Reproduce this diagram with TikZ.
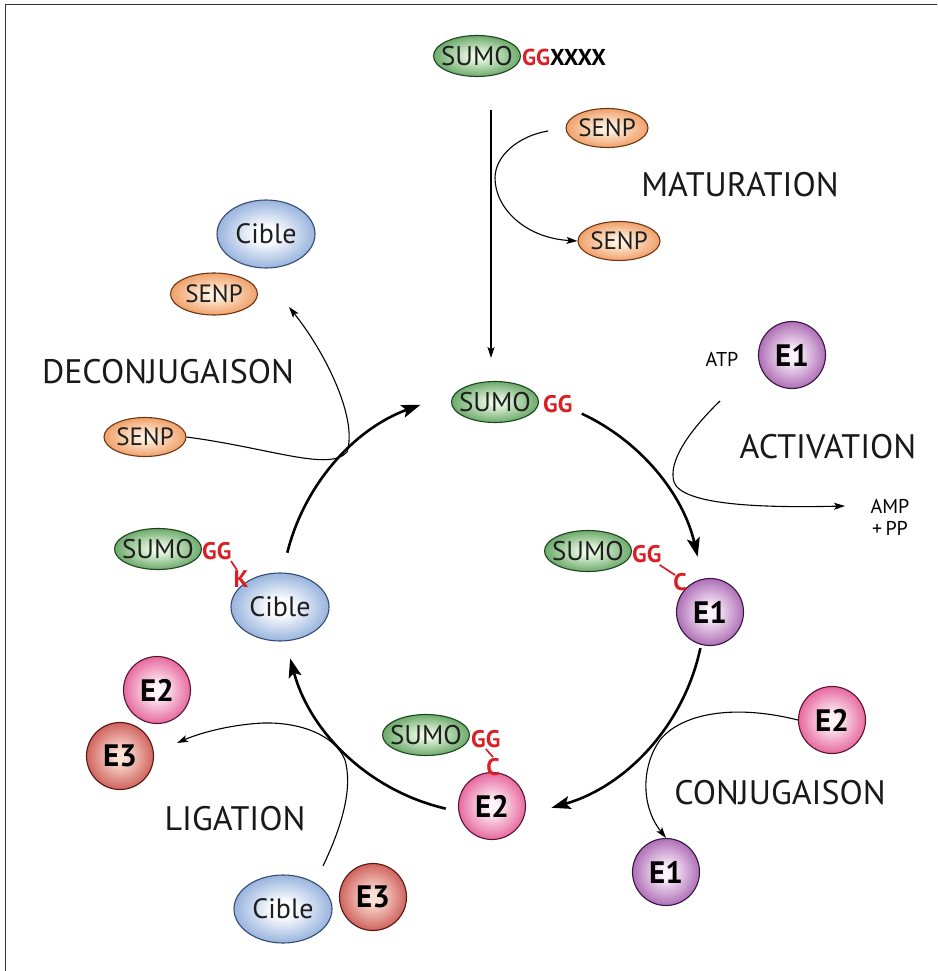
\documentclass[tikz,border=0pt]{standalone}
\usepackage{fontspec}
\setmainfont{PT Sans}
\usetikzlibrary{shapes.geometric,arrows.meta,calc}
\definecolor{ggred}{RGB}{218,32,38}
\definecolor{sumoO}{RGB}{62,140,62}\definecolor{sumoI}{RGB}{232,248,226}\definecolor{sumoD}{RGB}{30,70,30}
\definecolor{senpO}{RGB}{234,130,62}\definecolor{senpI}{RGB}{255,240,222}\definecolor{senpD}{RGB}{110,55,20}
\definecolor{cibO}{RGB}{105,145,205}\definecolor{cibI}{RGB}{252,253,255}\definecolor{cibD}{RGB}{55,75,115}
\definecolor{eoneO}{RGB}{145,62,155}\definecolor{eoneI}{RGB}{253,242,253}\definecolor{eoneD}{RGB}{55,20,65}
\definecolor{etwoO}{RGB}{222,52,125}\definecolor{etwoI}{RGB}{255,245,249}\definecolor{etwoD}{RGB}{90,20,50}
\definecolor{ethrO}{RGB}{190,52,48}\definecolor{ethrI}{RGB}{252,225,215}\definecolor{ethrD}{RGB}{90,20,20}
\pgfdeclareradialshading{sumoshade}{\pgfpoint{0bp}{0bp}}{color(0bp)=(sumoI); color(4bp)=(sumoI); color(33bp)=(sumoO); color(50bp)=(sumoO)}
\pgfdeclareradialshading{senpshade}{\pgfpoint{0bp}{0bp}}{color(0bp)=(senpI); color(4bp)=(senpI); color(33bp)=(senpO); color(50bp)=(senpO)}
\pgfdeclareradialshading{cibshade}{\pgfpoint{0bp}{0bp}}{color(0bp)=(cibI); color(6bp)=(cibI); color(34bp)=(cibO); color(50bp)=(cibO)}
\pgfdeclareradialshading{eoneshade}{\pgfpoint{0bp}{0bp}}{color(0bp)=(eoneI); color(4bp)=(eoneI); color(33bp)=(eoneO); color(50bp)=(eoneO)}
\pgfdeclareradialshading{etwoshade}{\pgfpoint{0bp}{0bp}}{color(0bp)=(etwoI); color(4bp)=(etwoI); color(33bp)=(etwoO); color(50bp)=(etwoO)}
\pgfdeclareradialshading{ethrshade}{\pgfpoint{0bp}{0bp}}{color(0bp)=(ethrI); color(4bp)=(ethrI); color(33bp)=(ethrO); color(50bp)=(ethrO)}
\begin{document}
\begin{tikzpicture}[x=1pt,y=-1pt,
  prot/.style={ellipse, inner sep=0pt, line width=1.1pt},
  sumo/.style={prot, minimum width=87pt, minimum height=41pt, draw=sumoD, shade, shading=sumoshade},
  senp/.style={prot, minimum width=82pt, minimum height=39pt, draw=senpD, shade, shading=senpshade},
  cible/.style={prot, minimum width=98pt, minimum height=68pt, draw=cibD, shade, shading=cibshade},
  enz/.style={circle, inner sep=0pt, minimum size=67pt, line width=1.1pt},
  eone/.style={enz, draw=eoneD, shade, shading=eoneshade},
  etwo/.style={enz, draw=etwoD, shade, shading=etwoshade},
  ethr/.style={enz, draw=ethrD, shade, shading=ethrshade},
  ptxt/.style={inner sep=0pt, font=\fontsize{25}{25}\selectfont, text=black!88},
  stxt/.style={ptxt, font=\fontsize{27}{27}\selectfont},
  ctxt/.style={ptxt, font=\fontsize{28}{28}\selectfont},
  etxt/.style={inner sep=0pt, font=\bfseries\fontsize{31}{31}\selectfont},
  gg/.style={inner sep=0pt, font=\bfseries\fontsize{24}{24}\selectfont, text=ggred},
  lbl/.style={inner sep=0pt, font=\fontsize{34}{34}\selectfont, text=black!90},
  small/.style={inner sep=0pt, font=\fontsize{20}{22}\selectfont, align=center},
  cyc/.style={line width=2.6pt, -{Stealth[length=19pt,width=13pt,inset=4pt]}},
  rxn/.style={line width=1.1pt, -{Stealth[length=11pt,width=7pt,inset=2.5pt]}},
  link/.style={line width=1.7pt, draw=ggred},
]
\useasboundingbox (0,0) rectangle (937,971);
\fill[white] (0,0) rectangle (937,971);
\draw[line width=1pt, black!80] (5,971) -- (5,5) -- (937,5);

% ---------- maturation ----------
\node[sumo] (s0) at (477,56) {};
\node[stxt] (s0t) at (s0) {SUMO};
\node[gg, anchor=west, font=\bfseries\fontsize{23}{23}\selectfont] (s0gg) at (522,57) {GG\textcolor{black}{XXXX}};
\coordinate (va) at (491,110);
\coordinate (vb) at (491,358);
\draw[rxn] (va) -- (vb);
\node[senp] (senpA) at (607,128) {};
\node[ptxt] (senpAt) at (senpA) {SENP};
\node[senp] (senpB) at (619,241) {};
\node[ptxt] (senpBt) at (senpB) {SENP};
\coordinate (mA) at (548,131);
\coordinate (mB) at (495,178);
\draw[rxn] (mA) .. controls (518,136) and (495,156) .. (mB) .. controls (495,208) and (525,238) .. (senpB.west);
\node[lbl] (mat) at (740,185) {MATURATION};

% ---------- cycle ----------
\coordinate (cc) at (493,604);
\node[sumo] (s1) at (495,402) {};
\node[stxt] (s1t) at (s1) {SUMO};
\node[gg, anchor=west] (s1gg) at (543,404) {GG};

\draw[cyc] (cc) ++(-65:210) arc[start angle=-65, end angle=-13, radius=210];
\draw[cyc] (cc) ++(12:212) arc[start angle=12, end angle=74, radius=212];
\draw[cyc] (cc) ++(103:210) arc[start angle=103, end angle=165, radius=210];
\draw[cyc] (cc) ++(194:212) arc[start angle=194, end angle=250, radius=212];

% ---------- activation ----------
\node[small] (atp) at (722,359) {ATP};
\node[eone] (e1a) at (792,355) {};
\node[etxt] (e1at) at (e1a) {E1};
\coordinate (aA) at (720,401);
\coordinate (aB) at (674,482);
\coordinate (aC) at (845,506);
\draw[rxn] (aA) .. controls (688,432) and (668,462) .. (aB) .. controls (682,505) and (760,508) .. (aC);
\node[lbl] (act) at (828,447) {ACTIVATION};
\node[small, anchor=north] (amp) at (890,499) {AMP\\+\,PP};

% E1 thioester
\node[sumo] (s2) at (588,551) {};
\node[stxt] (s2t) at (s2) {SUMO};
\node[gg, anchor=west] (s2gg) at (632,554) {GG};
\node[eone] (e1b) at (710,612) {};
\node[etxt] (e1bt) at (e1b) {E1};
\node[gg] (s2c) at (680,582) {C};
\draw[link] (s2gg.south east) ++(-2,2) -- ($(s2c.north west)+(2,2)$);

% ---------- conjugation ----------
\node[etwo] (e2a) at (832,720) {};
\node[etxt] (e2at) at (e2a) {E2};
\node[eone] (e1c) at (666,872) {};
\node[etxt] (e1ct) at (e1c) {E1};
\coordinate (cA) at (660,740);
\draw[rxn] (e2a.west) .. controls (730,703) and (680,715) .. (cA) .. controls (642,765) and (640,805) .. (e1c.north);
\node[lbl] (conj) at (780,793) {CONJUGAISON};

% E2 thioester
\node[sumo] (s3) at (426,735) {};
\node[stxt] (s3t) at (s3) {SUMO};
\node[gg, anchor=west] (s3gg) at (471,739) {GG};
\node[etwo] (e2b) at (492,806) {};
\node[etxt] (e2bt) at (e2b) {E2};
\node[gg] (s3c) at (493,767) {C};
\draw[link] (s3gg.south) ++(0,1) -- ($(s3c.north)+(0,-1)$);

% ---------- ligation ----------
\node[etwo] (e2c) at (157,690) {};
\node[etxt] (e2ct) at (e2c) {E2};
\node[ethr] (e3a) at (120,756) {};
\node[etxt] (e3at) at (e3a) {E3};
\node[cible] (cb3) at (283,909) {};
\node[ctxt] (cb3t) at (cb3) {Cible};
\node[ethr] (e3b) at (373,897) {};
\node[etxt] (e3bt) at (e3b) {E3};
\coordinate (lA) at (323,866);
\coordinate (lB) at (345,760);
\coordinate (lC) at (263,723);
\coordinate (lD) at (177,743);
\draw[rxn] (lA) .. controls (345,820) and (352,785) .. (lB) .. controls (335,735) and (300,722) .. (lC) .. controls (225,725) and (195,735) .. (lD);
\node[lbl] (lig) at (235,819) {LIGATION};

% conjugated target
\node[sumo] (s4) at (158,549) {};
\node[stxt] (s4t) at (s4) {SUMO};
\node[gg, anchor=west] (s4gg) at (202,551) {GG};
\node[cible] (cb2) at (280,607) {};
\node[ctxt] (cb2t) at (cb2) {Cible};
\node[gg] (s4k) at (241,579) {K};
\draw[link] (231,561) -- (237,570);

% ---------- deconjugation ----------
\node[cible] (cb1) at (266,234) {};
\node[ctxt] (cb1t) at (cb1) {Cible};
\node[senp, minimum width=87pt, minimum height=42pt] (senpC) at (214,294) {};
\node[ptxt] (senpCt) at (senpC) {SENP};
\node[senp] (senpD) at (145,437) {};
\node[ptxt] (senpDt) at (senpD) {SENP};
\coordinate (dB) at (347,452);
\coordinate (dC) at (289,307);
\draw[rxn] (senpD.east) .. controls (270,448) and (330,472) .. (dB) .. controls (358,418) and (325,352) .. (dC);
\node[lbl] (dec) at (168,372) {DECONJUGAISON};
\end{tikzpicture}
\end{document}
